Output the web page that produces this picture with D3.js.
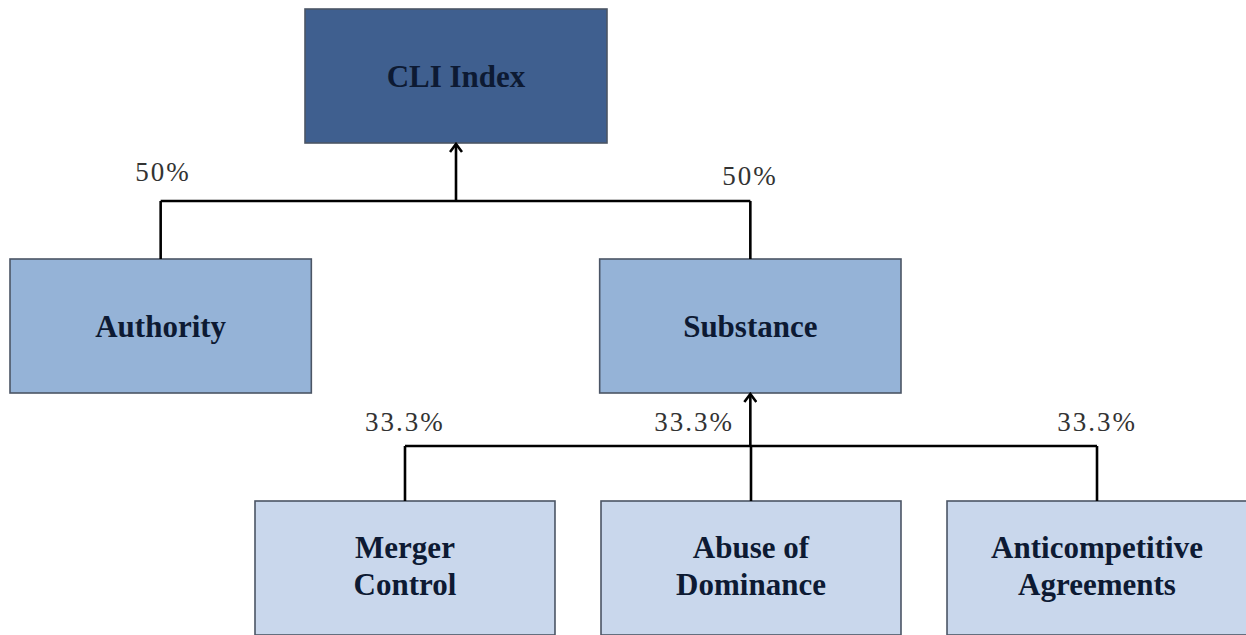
<!DOCTYPE html>
<html>
<head>
<meta charset="utf-8">
<script src="https://cdn.jsdelivr.net/npm/d3@7"></script>
<style>
  html,body{margin:0;padding:0;background:#fff;overflow:hidden;}
  svg{display:block;}
  .box-label{font-family:"Liberation Serif","Times New Roman",serif;font-weight:bold;font-size:31px;fill:#0d1a33;text-anchor:middle;}
  .weight{font-family:"Liberation Serif","Times New Roman",serif;font-size:27px;letter-spacing:2px;fill:#333;text-anchor:middle;}
</style>
</head>
<body>
<svg id="chart" width="1246" height="635"></svg>
<script>
// ── DONNÉES ──────────────────────────────────────────────
var ROOT_NAME="CLI Index";
var LEVEL1=["Authority","Substance"];
var LEVEL1_WEIGHTS=["50%","50%"];
var LEVEL2=["Merger Control","Abuse of Dominance","Anticompetitive Agreements"];
var LEVEL2_LINES=[["Merger","Control"],["Abuse of","Dominance"],["Anticompetitive","Agreements"]];
var LEVEL2_WEIGHTS=["33.3%","33.3%","33.3%"];
var LEVEL2_PARENT="Substance";

// ── MISE EN PAGE ─────────────────────────────────────────
var FILL=["#3f5f8f","#95b3d7","#c9d7ec"];
var rowTop=d3.scaleOrdinal().domain([0,1,2]).range([9,259,501]);
var BOX_H=134;

var x0=d3.scaleBand().domain([ROOT_NAME]).range([305,607]);
var x1=d3.scaleBand().domain(LEVEL1).range([10,901]).paddingInner(0.489);
var x2=d3.scaleBand().domain(LEVEL2).range([255,1247]).paddingInner(0.133);

var nodes=[{name:ROOT_NAME,lines:[ROOT_NAME],level:0,x:x0(ROOT_NAME),w:x0.bandwidth()}]
  .concat(LEVEL1.map(function(n){return{name:n,lines:[n],level:1,x:x1(n),w:x1.bandwidth()};}))
  .concat(LEVEL2.map(function(n,i){return{name:n,lines:LEVEL2_LINES[i],level:2,x:x2(n),w:x2.bandwidth()};}));

var svg=d3.select("#chart");

// Pointe de flèche ouverte (chevron orienté selon la ligne)
svg.append("defs").append("marker")
  .attr("id","arrow").attr("viewBox","0 0 12 14").attr("refX",10).attr("refY",7)
  .attr("markerWidth",12).attr("markerHeight",14).attr("markerUnits","userSpaceOnUse")
  .attr("orient","auto")
  .append("path").attr("d","M2,1 L10,7 L2,13").attr("fill","none").attr("stroke","#000").attr("stroke-width",2.6);

// ── BOÎTES ───────────────────────────────────────────────
var g=svg.selectAll("g.node").data(nodes).enter().append("g").attr("class","node");
g.append("rect")
  .attr("x",function(d){return d.x;})
  .attr("y",function(d){return rowTop(d.level);})
  .attr("width",function(d){return d.w;})
  .attr("height",BOX_H)
  .attr("fill",function(d){return FILL[d.level];})
  .attr("stroke","#4b5565").attr("stroke-width",1.6);
g.each(function(d){
  var cx=d.x+d.w/2;
  var top=rowTop(d.level);
  var base=d.lines.length===1?top+78:top+57;
  var t=d3.select(this).append("text").attr("class","box-label");
  d.lines.forEach(function(l,i){
    t.append("tspan").attr("x",cx).attr("y",base+i*37).text(l);
  });
});

// ── CONNECTEURS ──────────────────────────────────────────
function cx(n){return n.x+n.w/2;}
var byName={};nodes.forEach(function(n){byName[n.name]=n;});

function connect(parent,kids,busY,weights,weightPos){
  var xs=kids.map(function(k){return cx(byName[k]);});
  var pX=cx(byName[parent]);
  var kidTop=rowTop(byName[kids[0]].level);
  var pBot=rowTop(byName[parent].level)+BOX_H;
  svg.append("line").attr("x1",d3.min(xs)).attr("x2",d3.max(xs)).attr("y1",busY).attr("y2",busY)
    .attr("stroke","#000").attr("stroke-width",2.6);
  xs.forEach(function(x){
    svg.append("line").attr("x1",x).attr("x2",x).attr("y1",busY).attr("y2",kidTop)
      .attr("stroke","#000").attr("stroke-width",2.6);
  });
  var from=xs.indexOf(pX)>=0?kidTop:busY;
  svg.append("line").attr("x1",pX).attr("x2",pX).attr("y1",from).attr("y2",pBot+1)
    .attr("stroke","#000").attr("stroke-width",2.6).attr("marker-end","url(#arrow)");
  weights.forEach(function(wt,i){
    svg.append("text").attr("class","weight")
      .attr("x",weightPos[i][0]===null?xs[i]:weightPos[i][0]).attr("y",weightPos[i][1]).text(wt);
  });
}

connect(ROOT_NAME,LEVEL1,201,LEVEL1_WEIGHTS,[[163,181],[750,185]]);
connect(LEVEL2_PARENT,LEVEL2,446,LEVEL2_WEIGHTS,[[null,431],[694,431],[null,431]]);
</script>
</body>
</html>
